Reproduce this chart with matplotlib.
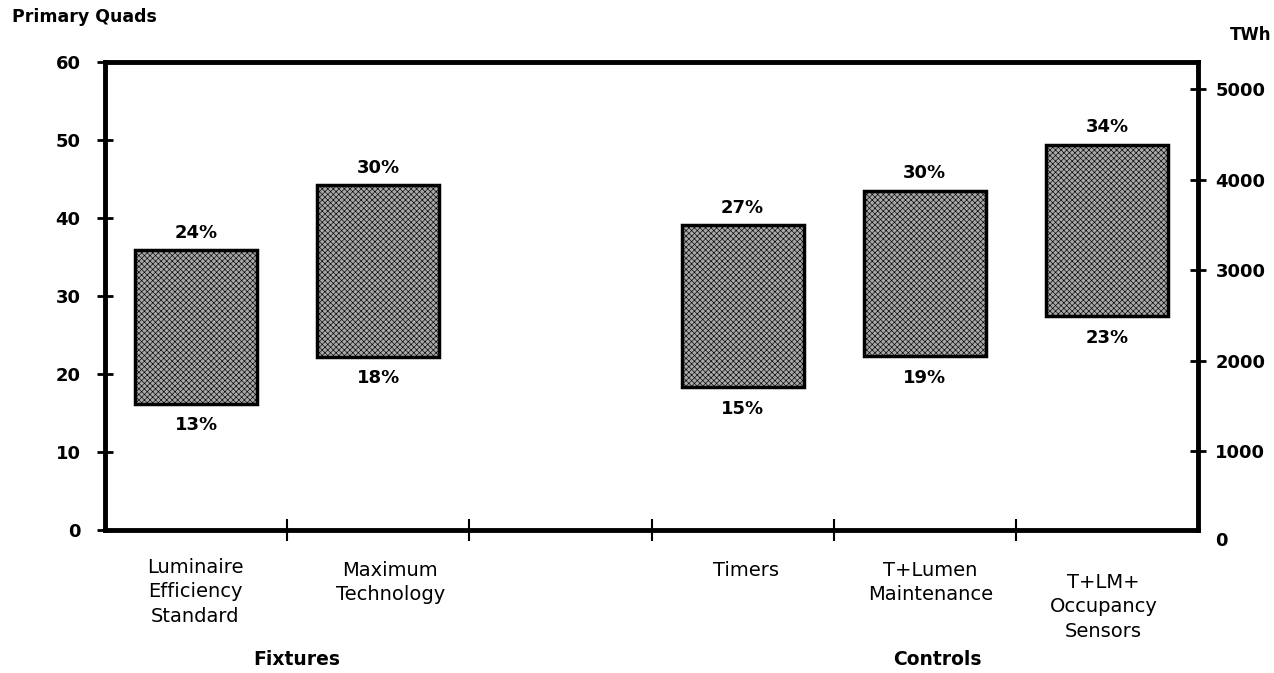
import matplotlib
matplotlib.use('Agg')
import matplotlib.pyplot as plt

plt.rcParams['font.family'] = ['DejaVu Sans']
plt.rcParams['hatch.linewidth'] = 0.45

# data (primary quads)
categories = ['Luminaire\nEfficiency\nStandard', 'Maximum\nTechnology', 'Timers',
              'T+Lumen\nMaintenance', 'T+LM+\nOccupancy\nSensors']
bar_x = [0.5, 1.5, 3.5, 4.5, 5.5]
label_x = [0.495, 1.566, 3.52, 4.53, 5.48]
label_y = [-0.060, -0.066, -0.066, -0.066, -0.092]
low = [16.2, 22.2, 18.3, 22.3, 27.4]
high = [35.9, 44.2, 39.1, 43.5, 49.4]
low_pct = ['13%', '18%', '15%', '19%', '23%']
high_pct = ['24%', '30%', '27%', '30%', '34%']
groups = ['Fixtures', 'Controls']
group_x = [1.055, 4.57]
left_ticks = [0, 10, 20, 30, 40, 50, 60]
right_ticks = [1000, 2000, 3000, 4000, 5000]

fig = plt.figure(figsize=(12.74, 6.73), dpi=100)
ax = fig.add_axes([0.0824, 0.2125, 0.858, 0.6954])

heights = [h - l for h, l in zip(high, low)]
ax.bar(bar_x, heights, bottom=low, width=0.67, facecolor='#a8a8a8',
       edgecolor='black', linewidth=2.5, hatch='xxxxxx', zorder=3)

for x, l, h, lp, hp in zip(bar_x, low, high, low_pct, high_pct):
    ax.annotate(hp, (x, h), xytext=(0, 12.5), textcoords='offset points',
                ha='center', va='center', fontsize=13, fontweight='bold')
    ax.annotate(lp, (x, l), xytext=(0, -15.5), textcoords='offset points',
                ha='center', va='center', fontsize=13, fontweight='bold')

ax.set_xlim(0, 6)
ax.set_ylim(0, 60)
ax.set_xticks([1, 2, 3, 4, 5])
ax.set_xticklabels([])
ax.set_yticks(left_ticks)
ax.set_yticklabels([str(t) for t in left_ticks], fontsize=13, fontweight='bold')
ax.tick_params(axis='y', direction='inout', length=11, width=2, pad=12)
ax.tick_params(axis='x', direction='inout', length=16, width=1.5)
yt = ax.yaxis.get_major_ticks()
yt[0].tick1line.set_visible(False)
yt[-1].tick1line.set_visible(False)
for s in ax.spines.values():
    s.set_linewidth(3.5)

# right axis in TWh
ax2 = ax.twinx()
ax2.set_ylim(127, 5299)
ax2.set_yticks(right_ticks)
ax2.set_yticklabels([str(t) for t in right_ticks], fontsize=13, fontweight='bold')
ax2.tick_params(axis='y', direction='inout', length=11, width=2, pad=7)
for s in ax2.spines.values():
    s.set_visible(False)
ax2.text(1.0156, 0, '0', transform=ax2.get_yaxis_transform(), ha='left',
         va='center', fontsize=13, fontweight='bold', clip_on=False)

# category and group labels under the axis
for x, y, c in zip(label_x, label_y, categories):
    ax.text(x, y, c, transform=ax.get_xaxis_transform(), ha='center', va='top',
            fontsize=14, linespacing=1.35)
for x, g in zip(group_x, groups):
    ax.text(x, -0.277, g, transform=ax.get_xaxis_transform(), ha='center',
            va='center', fontsize=13.5, fontweight='bold')

fig.text(12 / 1274, 1 - 17 / 673, 'Primary Quads', ha='left', va='center',
         fontsize=12.5, fontweight='bold')
fig.text(1230 / 1274, 1 - 35 / 673, 'TWh', ha='left', va='center',
         fontsize=12, fontweight='bold')

fig.savefig('out.png', dpi=100)
